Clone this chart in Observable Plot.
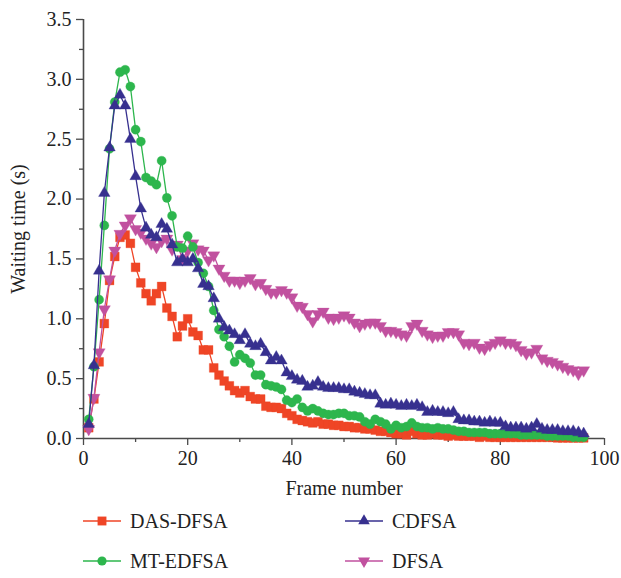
<!DOCTYPE html>
<html>
<head>
<meta charset="utf-8">
<script src="https://cdn.jsdelivr.net/npm/d3@7"></script>
<script src="https://cdn.jsdelivr.net/npm/@observablehq/plot@0.6"></script>
<style>
  html, body { margin: 0; padding: 0; background: #fff; }
  #wrap { position: relative; width: 621px; height: 578px; font-family: "Liberation Serif", "Times New Roman", serif; }
  #legend { position: absolute; left: 0; top: 0; width: 621px; height: 578px; pointer-events: none; }
  .item { position: absolute; display: flex; align-items: center; font-size: 20px; color: #222; }
  .item svg { margin-right: 9px; }
</style>
</head>
<body>
<div id="wrap"><div id="chart"></div><div id="legend"></div></div>
<script>
const frames = [1,2,3,4,5,6,7,8,9,10,11,12,13,14,15,16,17,18,19,20,21,22,23,24,25,26,27,28,29,30,31,32,33,34,35,36,37,38,39,40,41,42,43,44,45,46,47,48,49,50,51,52,53,54,55,56,57,58,59,60,61,62,63,64,65,66,67,68,69,70,71,72,73,74,75,76,77,78,79,80,81,82,83,84,85,86,87,88,89,90,91,92,93,94,95,96];

const dasDfsa = [0.09,0.33,0.64,0.96,1.32,1.52,1.68,1.70,1.63,1.43,1.30,1.21,1.15,1.21,1.27,1.09,1.02,0.85,0.94,1.00,
  0.89,0.86,0.74,0.74,0.59,0.53,0.48,0.44,0.40,0.38,0.40,0.35,0.33,0.33,0.27,0.26,0.26,0.25,0.21,0.19,
  0.16,0.15,0.14,0.13,0.14,0.12,0.12,0.11,0.11,0.10,0.10,0.09,0.09,0.08,0.08,0.07,0.06,0.06,0.05,0.04,
  0.04,0.03,0.06,0.04,0.03,0.03,0.04,0.03,0.03,0.02,0.03,0.02,0.02,0.02,0.02,0.01,0.02,0.01,0.01,0.01,
  0.01,0.01,0.01,0.01,0.01,0.01,0.01,0.01,0.01,0.01,0.005,0.005,0.005,0.005,0.005,0.005];

const mtEdfsa = [0.16,0.60,1.16,1.78,2.42,2.81,3.06,3.08,2.94,2.58,2.48,2.18,2.15,2.12,2.32,2.01,1.86,1.60,1.59,1.69,
  1.60,1.47,1.38,1.27,1.07,0.91,0.85,0.77,0.64,0.70,0.67,0.63,0.53,0.53,0.45,0.44,0.43,0.41,0.32,0.30,
  0.33,0.26,0.23,0.25,0.23,0.21,0.20,0.20,0.21,0.21,0.19,0.19,0.18,0.14,0.12,0.16,0.14,0.12,0.08,0.11,
  0.09,0.10,0.13,0.10,0.09,0.09,0.08,0.09,0.08,0.08,0.07,0.06,0.06,0.05,0.05,0.05,0.05,0.04,0.04,0.04,
  0.04,0.04,0.04,0.03,0.03,0.03,0.03,0.03,0.02,0.02,0.02,0.02,0.02,0.01,0.01,0.01];

const cdfsa = [0.12,0.61,1.40,2.05,2.43,2.78,2.87,2.78,2.50,2.19,1.92,1.76,1.70,1.68,1.79,1.75,1.62,1.47,1.50,1.47,
  1.50,1.42,1.29,1.27,1.17,1.00,0.93,0.90,0.87,0.82,0.87,0.79,0.77,0.79,0.72,0.65,0.68,0.65,0.55,0.52,
  0.49,0.48,0.43,0.44,0.47,0.43,0.42,0.42,0.42,0.41,0.41,0.39,0.38,0.37,0.36,0.36,0.29,0.28,0.29,0.28,
  0.27,0.28,0.27,0.28,0.26,0.22,0.23,0.22,0.22,0.21,0.22,0.16,0.15,0.15,0.14,0.14,0.13,0.14,0.13,0.13,
  0.10,0.09,0.09,0.09,0.08,0.09,0.12,0.08,0.07,0.07,0.07,0.06,0.06,0.06,0.05,0.04];

const dfsa = [0.08,0.34,0.72,1.08,1.33,1.57,1.71,1.78,1.84,1.75,1.72,1.67,1.63,1.60,1.65,1.67,1.58,1.62,1.50,1.57,
  1.63,1.58,1.57,1.49,1.53,1.42,1.36,1.32,1.32,1.30,1.32,1.34,1.29,1.30,1.25,1.22,1.22,1.24,1.22,1.18,
  1.11,1.10,1.04,0.98,1.04,1.06,1.01,1.00,1.01,1.03,1.01,0.97,0.94,0.96,0.97,0.97,0.94,0.90,0.90,0.89,
  0.87,0.86,0.94,0.96,0.90,0.87,0.85,0.86,0.86,0.89,0.89,0.87,0.80,0.79,0.80,0.76,0.75,0.78,0.80,0.82,
  0.80,0.80,0.78,0.74,0.71,0.72,0.75,0.67,0.65,0.64,0.62,0.60,0.58,0.57,0.54,0.57];

const seriesNames = ["DAS-DFSA", "MT-EDFSA", "CDFSA", "DFSA"];
const xMajorTicks = [0, 20, 40, 60, 80, 100];
const xMinorTicks = [10, 30, 50, 70, 90];
const yMajorTicks = [0, 0.5, 1.0, 1.5, 2.0, 2.5, 3.0, 3.5];
const yMinorTicks = [0.25, 0.75, 1.25, 1.75, 2.25, 2.75, 3.25];

const colors = {"DAS-DFSA": "#EF4526", "MT-EDFSA": "#2DB64D", "CDFSA": "#37308F", "DFSA": "#C1519F"};

const triangleDown = {
  draw(context, size) {
    const sqrt3 = Math.sqrt(3);
    const y = -Math.sqrt(size / (sqrt3 * 3));
    context.moveTo(0, -y * 2);
    context.lineTo(-sqrt3 * y, y);
    context.lineTo(sqrt3 * y, y);
    context.closePath();
  }
};
const symbols = {"DAS-DFSA": "square", "MT-EDFSA": "circle", "CDFSA": "triangle", "DFSA": triangleDown};
const radii = {"DAS-DFSA": 5.0, "MT-EDFSA": 4.6, "CDFSA": 4.3, "DFSA": 4.5};

const valuesByName = {"DAS-DFSA": dasDfsa, "MT-EDFSA": mtEdfsa, "CDFSA": cdfsa, "DFSA": dfsa};
const drawOrder = ["DAS-DFSA", "DFSA", "MT-EDFSA", "CDFSA"];

const marks = [];
for (const name of drawOrder) {
  const data = frames.map((f, i) => ({frame: f, value: valuesByName[name][i]}));
  marks.push(Plot.line(data, {x: "frame", y: "value", stroke: colors[name], strokeWidth: 1.3}));
  marks.push(Plot.dot(data, {x: "frame", y: "value", symbol: symbols[name], r: radii[name], fill: colors[name], stroke: colors[name], strokeOpacity: 0.5, strokeWidth: 0.6}));
}

const axisColor = "#4a4a4a";
const chart = Plot.plot({
  width: 621,
  height: 510,
  marginLeft: 83,
  marginRight: 17,
  marginTop: 19,
  marginBottom: 72,
  style: {fontFamily: "'Liberation Serif', 'Times New Roman', serif", background: "#fff", color: "#222"},
  x: {domain: [0, 100]},
  y: {domain: [0, 3.5]},
  marks: [
    Plot.axisX({ticks: xMinorTicks, tickSize: 4, tickFormat: () => "", stroke: axisColor, strokeWidth: 1.3, label: null}),
    Plot.axisX({ticks: xMajorTicks, tickSize: 7, tickPadding: 5, tickFormat: d => String(d), fontSize: 20, stroke: axisColor, strokeWidth: 1.3, fill: "#222", label: null}),
    Plot.axisY({ticks: yMinorTicks, tickSize: 4, tickFormat: () => "", stroke: axisColor, strokeWidth: 1.3, label: null}),
    Plot.axisY({ticks: yMajorTicks, tickSize: 7, tickPadding: 5, tickFormat: d3.format(".1f"), fontSize: 20, stroke: axisColor, strokeWidth: 1.3, fill: "#222", label: null}),
    Plot.ruleY([0], {stroke: axisColor, strokeWidth: 1.6}),
    Plot.ruleX([0], {stroke: axisColor, strokeWidth: 1.6}),
    Plot.text(["Frame number"], {frameAnchor: "bottom", dy: 56, fontSize: 20, fill: "#222", textAnchor: "middle"}),
    Plot.text(["Waiting time (s)"], {frameAnchor: "left", dx: -65, rotate: -90, fontSize: 20, fill: "#222", textAnchor: "middle"}),
    ...marks
  ]
});
document.getElementById("chart").appendChild(chart);

// Legend (HTML, below the plot)
const legendPos = {
  "DAS-DFSA": [83, 521], "MT-EDFSA": [83, 561],
  "CDFSA": [345, 521], "DFSA": [345, 561]
};
const legend = document.getElementById("legend");
for (const name of seriesNames) {
  const [lx, ly] = legendPos[name];
  const item = document.createElement("div");
  item.className = "item";
  item.style.left = lx + "px";
  item.style.top = (ly - 12) + "px";
  item.style.height = "24px";
  const ns = "http://www.w3.org/2000/svg";
  const svg = document.createElementNS(ns, "svg");
  svg.setAttribute("width", 38); svg.setAttribute("height", 14);
  const line = document.createElementNS(ns, "line");
  line.setAttribute("x1", 0); line.setAttribute("x2", 38); line.setAttribute("y1", 7); line.setAttribute("y2", 7);
  line.setAttribute("stroke", colors[name]); line.setAttribute("stroke-width", 1.5);
  svg.appendChild(line);
  const sym = typeof symbols[name] === "string" ? ({square: d3.symbolSquare, circle: d3.symbolCircle, triangle: d3.symbolTriangle})[symbols[name]] : symbols[name];
  const path = document.createElementNS(ns, "path");
  path.setAttribute("d", d3.symbol(sym, radii[name] * radii[name] * Math.PI)());
  path.setAttribute("transform", "translate(19,7)");
  path.setAttribute("fill", colors[name]);
  svg.appendChild(path);
  item.appendChild(svg);
  const span = document.createElement("span");
  span.textContent = name;
  item.appendChild(span);
  legend.appendChild(item);
}
</script>
</body>
</html>
